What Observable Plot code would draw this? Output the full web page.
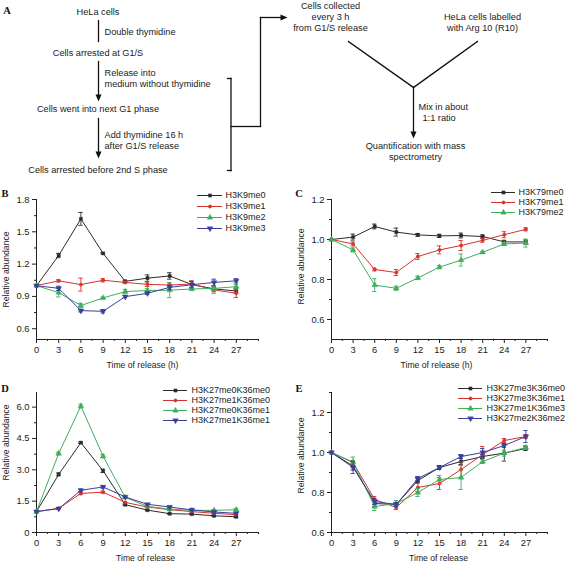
<!DOCTYPE html>
<html><head><meta charset="utf-8">
<script src="https://cdn.jsdelivr.net/npm/d3@7"></script>
<script src="https://cdn.jsdelivr.net/npm/@observablehq/plot@0.6"></script>
<style>
html,body{margin:0;padding:0;background:#fff;}
#fig{position:relative;width:570px;height:564px;overflow:hidden;background:#fff;font-family:"Liberation Sans",Arial,sans-serif;}
#fig > *{position:absolute;}
.plab{font-family:"Liberation Serif","Times New Roman",serif;font-weight:bold;font-size:10.5px;line-height:1;color:#111;transform:translate(-50%,-50%);}
</style></head><body><div id="fig"></div>
<script>
// ---------- shared axis values ----------
const times = [0, 3, 6, 9, 12, 15, 18, 21, 24, 27];
const xMajor = [0, 3, 6, 9, 12, 15, 18, 21, 24, 27];
const xMinor = [1.5, 4.5, 7.5, 10.5, 13.5, 16.5, 19.5, 22.5, 25.5, 28.5, 30];

// ---------- panel B ----------
const bNames = ["H3K9me0", "H3K9me1", "H3K9me2", "H3K9me3"];
const bMe0 = [1.00, 1.28, 1.62, 1.30, 1.04, 1.07, 1.09, 1.01, 0.97, 0.95];
const bMe1 = [1.00, 1.045, 1.01, 1.05, 1.03, 1.012, 1.006, 1.015, 0.96, 0.93];
const bMe2 = [1.00, 0.935, 0.815, 0.886, 0.945, 0.955, 0.958, 0.969, 0.975, 0.99];
const bMe3 = [1.00, 0.975, 0.768, 0.762, 0.898, 0.929, 0.984, 1.009, 1.03, 1.045];
const bMe0Err = [0, 0.02, 0.06, 0.006, 0.01, 0.03, 0.03, 0.03, 0.02, 0.02];
const bMe1Err = [0, 0.01, 0.06, 0.015, 0.01, 0.02, 0.02, 0.03, 0.03, 0.04];
const bMe2Err = [0, 0.04, 0.02, 0.008, 0.02, 0.02, 0.07, 0.01, 0.02, 0.02];
const bMe3Err = [0, 0.02, 0.012, 0.015, 0.01, 0.01, 0.02, 0.03, 0.03, 0.02];
const bYMajor = [0.6, 0.9, 1.2, 1.5, 1.8];
const bYMinor = [0.75, 1.05, 1.35, 1.65];

// ---------- panel C ----------
const cNames = ["H3K79me0", "H3K79me1", "H3K79me2"];
const cMe0 = [1.00, 1.012, 1.065, 1.037, 1.023, 1.018, 1.02, 1.015, 0.988, 0.988];
const cMe1 = [1.00, 0.978, 0.85, 0.835, 0.915, 0.948, 0.97, 0.996, 1.024, 1.051];
const cMe2 = [1.00, 0.948, 0.772, 0.756, 0.808, 0.862, 0.897, 0.936, 0.978, 0.982];
const cMe0Err = [0, 0.015, 0.012, 0.02, 0.007, 0.008, 0.012, 0.008, 0.008, 0.01];
const cMe1Err = [0, 0.01, 0.007, 0.015, 0.015, 0.02, 0.025, 0.01, 0.015, 0.008];
const cMe2Err = [0, 0.01, 0.032, 0.01, 0.008, 0.008, 0.03, 0.005, 0.008, 0.02];
const cYMajor = [0.6, 0.8, 1.0, 1.2];
const cYMinor = [0.7, 0.9, 1.1];

// ---------- panel D ----------
const dNames = ["H3K27me0K36me0", "H3K27me1K36me0", "H3K27me0K36me1", "H3K27me1K36me1"];
const dS0 = [1.00, 2.78, 4.30, 2.95, 1.33, 1.07, 0.90, 0.88, 0.80, 0.75];
const dS1 = [1.00, 1.16, 1.87, 1.93, 1.44, 1.22, 1.09, 1.00, 0.92, 0.85];
const dS2 = [1.00, 3.78, 6.05, 3.65, 1.68, 1.25, 1.12, 1.06, 1.06, 1.09];
const dS3 = [1.00, 1.14, 2.02, 2.18, 1.70, 1.35, 1.22, 1.08, 0.98, 0.92];
const dS0Err = [0, 0.07, 0.04, 0.08, 0.03, 0.03, 0.02, 0.02, 0.03, 0.03];
const dS1Err = [0, 0.03, 0.06, 0.05, 0.04, 0.03, 0.02, 0.03, 0.03, 0.03];
const dS2Err = [0, 0.06, 0.09, 0.08, 0.04, 0.03, 0.03, 0.03, 0.04, 0.06];
const dS3Err = [0, 0.03, 0.06, 0.06, 0.04, 0.03, 0.03, 0.03, 0.03, 0.03];
const dYMajor = [0, 1.5, 3.0, 4.5, 6.0];
const dYMinor = [0.75, 2.25, 3.75, 5.25];

// ---------- panel E ----------
const eNames = ["H3K27me3K36me0", "H3K27me3K36me1", "H3K27me1K36me3", "H3K27me2K36me2"];
const eS0 = [1.00, 0.932, 0.745, 0.74, 0.86, 0.925, 0.955, 0.98, 0.997, 1.02];
const eS1 = [1.00, 0.95, 0.765, 0.725, 0.825, 0.845, 0.915, 0.99, 1.06, 1.08];
const eS2 = [1.00, 0.952, 0.73, 0.745, 0.80, 0.865, 0.875, 0.955, 0.997, 1.025];
const eS3 = [1.00, 0.925, 0.755, 0.74, 0.87, 0.925, 0.98, 1.00, 1.035, 1.08];
const eS0Err = [0, 0.02, 0.015, 0.01, 0.01, 0.01, 0.015, 0.01, 0.04, 0.01];
const eS1Err = [0, 0.01, 0.015, 0.01, 0.02, 0.03, 0.04, 0.04, 0.01, 0.01];
const eS2Err = [0, 0.025, 0.02, 0.015, 0.02, 0.02, 0.06, 0.01, 0.015, 0.01];
const eS3Err = [0, 0.03, 0.015, 0.01, 0.01, 0.01, 0.01, 0.02, 0.01, 0.03];
const eYMajor = [0.6, 0.8, 1.0, 1.2];
const eYMinor = [0.7, 0.9, 1.1, 1.3];

// ---------- panel A (flow chart) ----------
const flowCentered = [
  {label: "HeLa cells", x: 97.5, y: 12},
  {label: "Cells arrested at G1/S", x: 97.5, y: 53},
  {label: "Cells went into next G1 phase", x: 97.5, y: 109},
  {label: "Cells arrested before 2nd S phase", x: 97.5, y: 170},
  {label: "Cells collected", x: 330, y: 5.5},
  {label: "every 3 h", x: 330, y: 16.5},
  {label: "from G1/S release", x: 330, y: 27.5},
  {label: "HeLa cells labelled", x: 482, y: 16.5},
  {label: "with Arg 10 (R10)", x: 482, y: 27.5},
  {label: "Quantification with mass", x: 415, y: 146},
  {label: "spectrometry", x: 415, y: 157}
];
const flowStart = [
  {label: "Double thymidine", x: 104, y: 32},
  {label: "Release into", x: 104, y: 73},
  {label: "medium without thymidine", x: 104, y: 84},
  {label: "Add thymidine 16 h", x: 104, y: 135},
  {label: "after G1/S release", x: 104, y: 146},
  {label: "Mix in about", x: 418, y: 107},
  {label: "1:1 ratio", x: 422, y: 118}
];
const flowLinks = [
  {x1: 98, y1: 20, x2: 98, y2: 41},
  {x1: 98, y1: 61, x2: 98, y2: 96},
  {x1: 98, y1: 118, x2: 98, y2: 153},
  {x1: 227, y1: 78, x2: 230.5, y2: 78},
  {x1: 230.5, y1: 78, x2: 230.5, y2: 170},
  {x1: 227, y1: 170, x2: 230.5, y2: 170},
  {x1: 230.5, y1: 126, x2: 260, y2: 126},
  {x1: 260, y1: 126, x2: 260, y2: 17},
  {x1: 260, y1: 17, x2: 282, y2: 17},
  {x1: 348, y1: 41, x2: 413, y2: 87},
  {x1: 477, y1: 41, x2: 413, y2: 87},
  {x1: 413, y1: 87, x2: 413, y2: 133}
];
const flowHeadsDown = [{x: 98, y: 101}, {x: 98, y: 158}, {x: 413, y: 138}];
const flowHeadsRight = [{x: 287, y: 17}];

const panelLetters = [
  {t: "A", x: 7, y: 11}, {t: "B", x: 5, y: 194}, {t: "C", x: 299, y: 194},
  {t: "D", x: 5, y: 389}, {t: "E", x: 299, y: 389}
];

// ---------- style ----------
const FONT = "'Liberation Sans', Arial, Helvetica, sans-serif";
const colors = ["#2b2b2b", "#d8322c", "#3fae5c", "#3a3f9e"];
const axisColor = "#222";

const triangleDown = {
  draw(ctx, size) {
    const y = -Math.sqrt(size / (Math.sqrt(3) * 3));
    ctx.moveTo(0, -y * 2);
    ctx.lineTo(-Math.sqrt(3) * y, y);
    ctx.lineTo(Math.sqrt(3) * y, y);
    ctx.closePath();
  }
};
const headDown = {draw(ctx) { ctx.moveTo(0, 0); ctx.lineTo(-3, -7); ctx.lineTo(3, -7); ctx.closePath(); }};
const headRight = {draw(ctx) { ctx.moveTo(0, 0); ctx.lineTo(-7, -3); ctx.lineTo(-7, 3); ctx.closePath(); }};
const symbols = ["square", "circle", "triangle", triangleDown];
const symR = [1.8, 1.7, 2.1, 2.1];

const fig = document.getElementById("fig");
function place(el, left, top) {
  el.style.position = "absolute";
  el.style.left = left + "px";
  el.style.top = top + "px";
  fig.appendChild(el);
}
const baseStyle = {fontFamily: FONT, fontSize: "9px", color: "#222", background: "transparent", overflow: "visible"};

// ---------- panel A ----------
const panelA = Plot.plot({
  width: 570, height: 185, margin: 0,
  x: {domain: [0, 570], range: [0, 570], axis: null},
  y: {domain: [0, 185], range: [0, 185], axis: null},
  style: {...baseStyle, fontSize: "9.2px"},
  marks: [
    Plot.link(flowLinks, {x1: "x1", y1: "y1", x2: "x2", y2: "y2", stroke: "#111", strokeWidth: 1.3, strokeLinecap: "square"}),
    Plot.dot(flowHeadsDown, {x: "x", y: "y", symbol: headDown, r: 3, fill: "#111", stroke: "none"}),
    Plot.dot(flowHeadsRight, {x: "x", y: "y", symbol: headRight, r: 3, fill: "#111", stroke: "none"}),
    Plot.text(flowCentered, {x: "x", y: "y", text: "label", textAnchor: "middle", lineAnchor: "middle", fill: "#1a1a1a"}),
    Plot.text(flowStart, {x: "x", y: "y", text: "label", textAnchor: "start", lineAnchor: "middle", fill: "#1a1a1a"})
  ]
});
place(panelA, 0, 0);

// ---------- line panels ----------
function linePanel(o) {
  const marks = [
    Plot.axisX({ticks: xMajor, tickSize: 4, tickPadding: 2.5, tickFormat: d => String(d), label: null, stroke: axisColor, fontSize: 9.4}),
    Plot.axisX({ticks: xMinor, tickSize: 2, tickFormat: () => "", label: null, stroke: axisColor}),
    Plot.axisY({ticks: o.yMajor, tickSize: 4, tickPadding: 3, tickFormat: o.yFmt, label: null, stroke: axisColor, fontSize: 9.4}),
    Plot.axisY({ticks: o.yMinor, tickSize: 2, tickFormat: () => "", label: null, stroke: axisColor}),
    Plot.ruleY([o.yDomain[0]], {stroke: axisColor, strokeWidth: 1}),
    Plot.ruleX([0], {stroke: axisColor, strokeWidth: 1}),
    Plot.text([o.xTitle], {text: d => d, frameAnchor: "bottom", lineAnchor: "middle", dy: 26, dx: o.xTitleDx, fontSize: 8.6}),
    Plot.text(["Relative abundance"], {text: d => d, frameAnchor: "left", textAnchor: "middle", lineAnchor: "middle", rotate: -90, dx: -30, dy: o.yTitleDy, fontSize: 8.6})
  ];
  const cap = 0.3;
  o.values.forEach((vals, i) => {
    const data = times.map((t, j) => ({t, v: vals[j], e: o.errors[i][j]}));
    const err = data.filter(d => d.e > 0);
    const col = colors[i];
    marks.push(
      Plot.ruleX(err, {x: "t", y1: d => d.v - d.e, y2: d => d.v + d.e, stroke: col, strokeWidth: 0.9}),
      Plot.ruleY(err, {y: d => d.v + d.e, x1: d => d.t - cap, x2: d => d.t + cap, stroke: col, strokeWidth: 0.9}),
      Plot.ruleY(err, {y: d => d.v - d.e, x1: d => d.t - cap, x2: d => d.t + cap, stroke: col, strokeWidth: 0.9}),
      Plot.line(data, {x: "t", y: "v", stroke: col, strokeWidth: 1}),
      Plot.dot(data, {x: "t", y: "v", symbol: symbols[i], r: symR[i], fill: col, stroke: col, strokeWidth: 0.4})
    );
  });
  return Plot.plot({
    width: 285, height: 185,
    marginTop: 9, marginBottom: 36, marginLeft: o.ml, marginRight: o.mr,
    x: {domain: [0, 30]},
    y: {domain: o.yDomain},
    style: baseStyle,
    marks
  });
}

function legendPlot(names, o) {
  const marks = [];
  names.forEach((n, i) => {
    marks.push(
      Plot.ruleY([n], {y: d => d, x1: 0, x2: 1, stroke: colors[i], strokeWidth: 1}),
      Plot.dot([n], {x: 0.5, y: d => d, symbol: symbols[i], r: symR[i], fill: colors[i], stroke: colors[i], strokeWidth: 0.4}),
      Plot.text([n], {x: 1, y: d => d, text: d => d, dx: o.gap, textAnchor: "start", lineAnchor: "middle", fill: "#222"})
    );
  });
  return Plot.plot({
    width: o.width, height: o.height, margin: 0,
    x: {domain: [0, 1], range: o.xRange, axis: null},
    y: {type: "point", domain: names, range: o.yRange, padding: 0, axis: null},
    style: baseStyle,
    marks
  });
}

const fmt1 = d => d.toFixed(1);

place(linePanel({
  values: [bMe0, bMe1, bMe2, bMe3], errors: [bMe0Err, bMe1Err, bMe2Err, bMe3Err],
  yDomain: [0.5, 1.8], yMajor: bYMajor, yMinor: bYMinor, yFmt: fmt1,
  xTitle: "Time of release (h)", xTitleDx: -5, yTitleDy: 0, ml: 36, mr: 27
}), 0, 190);
place(linePanel({
  values: [cMe0, cMe1, cMe2], errors: [cMe0Err, cMe1Err, cMe2Err],
  yDomain: [0.5, 1.2], yMajor: cYMajor, yMinor: cYMinor, yFmt: fmt1,
  xTitle: "Time of release (h)", xTitleDx: -3, yTitleDy: -3, ml: 46, mr: 23
}), 285, 190);
place(linePanel({
  values: [dS0, dS1, dS2, dS3], errors: [dS0Err, dS1Err, dS2Err, dS3Err],
  yDomain: [0, 6.7], yMajor: dYMajor, yMinor: dYMinor, yFmt: d => d === 0 ? "0" : d.toFixed(1),
  xTitle: "Time of release", xTitleDx: -2, yTitleDy: -20, ml: 36, mr: 27
}), 0, 383);
place(linePanel({
  values: [eS0, eS1, eS2, eS3], errors: [eS0Err, eS1Err, eS2Err, eS3Err],
  yDomain: [0.6, 1.3], yMajor: eYMajor, yMinor: eYMinor, yFmt: fmt1,
  xTitle: "Time of release", xTitleDx: -1, yTitleDy: -7, ml: 46, mr: 23
}), 285, 383);

// legends
place(legendPlot(bNames, {width: 95, height: 50, xRange: [7, 32], yRange: [8.5, 41.5], gap: 3}), 190, 186);
place(legendPlot(cNames, {width: 90, height: 40, xRange: [11, 35], yRange: [8.3, 29], gap: 3}), 480, 183);
place(legendPlot(dNames, {width: 130, height: 50, xRange: [8, 32], yRange: [8.3, 40.7], gap: 4}), 155, 380);
place(legendPlot(eNames, {width: 120, height: 50, xRange: [8, 32], yRange: [8.7, 41.3], gap: 4}), 450, 378);

// panel letters
panelLetters.forEach(p => {
  const d = document.createElement("div");
  d.className = "plab";
  d.textContent = p.t;
  place(d, p.x, p.y);
});
</script></body></html>
